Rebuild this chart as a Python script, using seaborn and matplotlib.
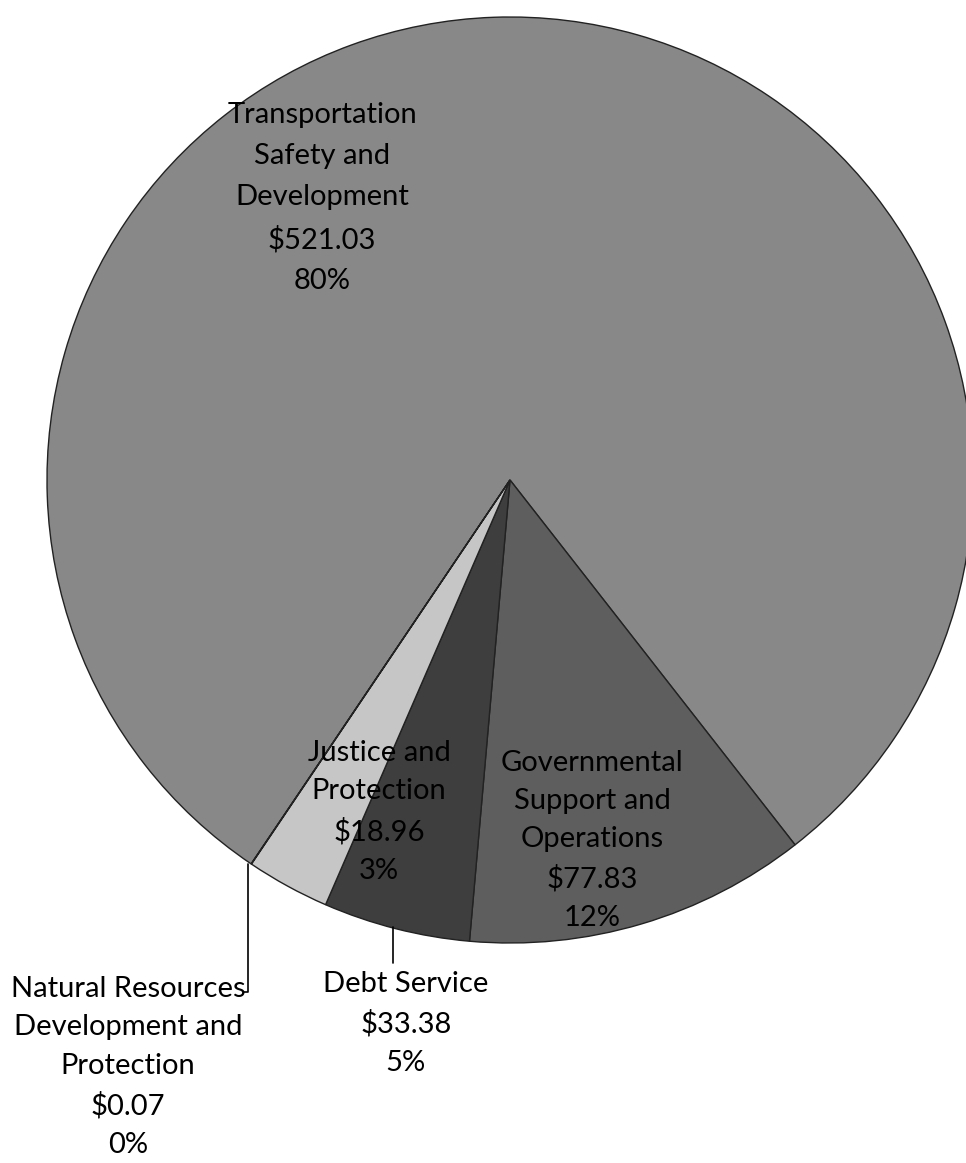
# Pie chart of spending by function (grayscale, Excel-like)
import numpy as np
import matplotlib
matplotlib.use("Agg")
import matplotlib.pyplot as plt
import seaborn as sns

# Data
categorias = [
    "Transportation\nSafety and\nDevelopment",
    "Governmental\nSupport and\nOperations",
    "Debt Service",
    "Justice and\nProtection",
    "Natural Resources\nDevelopment and\nProtection",
]
valores = [521.03, 77.83, 33.38, 18.96, 0.07]

# Styles / layout
cores = ["#888888", "#5e5e5e", "#3e3e3e", "#c6c6c6", "#9a9a9a"]
# label block centres (axes data units, radius = 1)
pos_rotulos = [(-0.406, 0.609), (0.177, -0.778), (-0.225, -1.173),
               (-0.283, -0.717), (-0.825, -1.268)]
espaco_linhas = [1.70, 1.58, 1.59, 1.60, 1.60]

sns.set_theme(style="white")
plt.rcParams["font.family"] = ["Lato", "DejaVu Sans"]

fig = plt.figure(figsize=(9.66, 11.63), dpi=100)
W, H = 966, 1163
cx, cy, R = 510, 480, 463
ax = fig.add_axes([(cx - R) / W, (H - cy - R) / H, 2 * R / W, 2 * R / H])

total = sum(valores)
frac_transp = valores[0] / total
inicio = -52.0 + 360 * frac_transp

wedges, _ = ax.pie(
    valores,
    colors=cores,
    startangle=inicio,
    counterclock=False,
    radius=1,
    wedgeprops=dict(edgecolor="#222222", linewidth=1.0),
)
ax.set_xlim(-1, 1)
ax.set_ylim(-1, 1)
ax.set_aspect("equal")
ax.axis("off")

# Rótulos: nome, valor e percentual
for i, (nome, v) in enumerate(zip(categorias, valores)):
    pct = round(100 * v / total)
    texto = f"{nome}\n${v:.2f}\n{pct}%"
    x, y = pos_rotulos[i]
    ax.text(x, y, texto, ha="center", va="center", multialignment="center",
            fontsize=21, color="black", linespacing=espaco_linhas[i],
            clip_on=False)

# Linhas de chamada para Debt Service e Natural Resources
def ponto_borda(w):
    ang = np.deg2rad((w.theta1 + w.theta2) / 2)
    return np.cos(ang), np.sin(ang)

x0, y0 = ponto_borda(wedges[2])
ax.plot([x0 - 0.006, x0 - 0.006], [y0 + 0.003, -1.043], color="black",
        lw=1.2, clip_on=False)

x1, y1 = ponto_borda(wedges[4])
ax.plot([x1 - 0.006, x1 - 0.006, x1 - 0.016], [y1, -1.106, -1.106],
        color="black", lw=1.2, clip_on=False)

plt.savefig("out.png", dpi=100)
